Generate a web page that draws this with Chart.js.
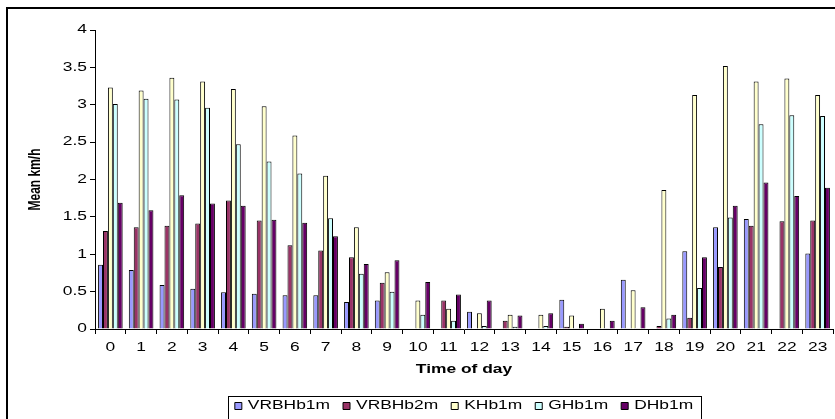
<!DOCTYPE html>
<html>
<head>
<meta charset="utf-8">
<script src="https://cdn.jsdelivr.net/npm/chart.js@4.4.0/dist/chart.umd.min.js"></script>
<style>
body { margin: 0; background: #fff; }
canvas { display: block; }
</style>
</head>
<body>
<canvas id="myChart" width="835" height="419"></canvas>
<script>
var heures = ['0','1','2','3','4','5','6','7','8','9','10','11','12','13','14','15','16','17','18','19','20','21','22','23'];

var vrbhb1m = [0.86, 0.79, 0.59, 0.54, 0.49, 0.47, 0.45, 0.45, 0.36, 0.38, 0, 0, 0.23, 0, 0, 0.39, 0, 0.66, 0, 1.04, 1.36, 1.47, 0, 1.01];
var vrbhb2m = [1.31, 1.36, 1.38, 1.41, 1.72, 1.45, 1.12, 1.05, 0.96, 0.62, 0, 0.38, 0, 0.11, 0, 0.03, 0, 0.01, 0.04, 0.15, 0.83, 1.38, 1.44, 1.45];
var khb1m   = [3.23, 3.19, 3.36, 3.31, 3.21, 2.98, 2.59, 2.05, 1.36, 0.76, 0.38, 0.27, 0.21, 0.19, 0.19, 0.18, 0.27, 0.52, 1.86, 3.13, 3.52, 3.31, 3.35, 3.13];
var ghb1m   = [3.01, 3.08, 3.07, 2.96, 2.47, 2.24, 2.08, 1.48, 0.74, 0.50, 0.19, 0.11, 0.04, 0.03, 0.04, 0.01, 0.01, 0.01, 0.14, 0.55, 1.49, 2.74, 2.86, 2.85];
var dhb1m   = [1.69, 1.59, 1.79, 1.68, 1.65, 1.46, 1.42, 1.24, 0.87, 0.92, 0.63, 0.46, 0.38, 0.18, 0.21, 0.07, 0.11, 0.29, 0.19, 0.96, 1.65, 1.96, 1.78, 1.89];

var noms = ['VRBHb1m', 'VRBHb2m', 'KHb1m', 'GHb1m', 'DHb1m'];
var couleurs = ['#9999FF', '#993366', '#FFFFCC', '#CCFFFF', '#660066'];
var series = [vrbhb1m, vrbhb2m, khb1m, ghb1m, dhb1m];

var stretch = 1.45;

var canvas = document.getElementById("myChart");
var ctx = canvas.getContext('2d');

// the text in the picture is drawn wider than normal, stretch it sideways
var fillOrig = ctx.fillText;
var measureOrig = ctx.measureText;
ctx.fillText = function(t, x, y) {
  var m = this.getTransform();
  this.save();
  this.translate(x, y);
  if (Math.abs(m.b) > 0.01) this.scale(1, stretch);
  else this.scale(stretch, 1);
  fillOrig.call(this, t, 0, 0);
  this.restore();
};
ctx.measureText = function(t) {
  var m = measureOrig.call(this, t);
  return {
    width: m.width * stretch,
    actualBoundingBoxAscent: m.actualBoundingBoxAscent,
    actualBoundingBoxDescent: m.actualBoundingBoxDescent,
    actualBoundingBoxLeft: m.actualBoundingBoxLeft * stretch,
    actualBoundingBoxRight: m.actualBoundingBoxRight * stretch
  };
};

var datasets = [];
for (var i = 0; i < series.length; i++) {
  datasets.push({
    label: noms[i],
    data: series[i],
    backgroundColor: couleurs[i],
    borderColor: '#000',
    borderWidth: 1,
    categoryPercentage: 0.8,
    barPercentage: 1.0
  });
}

var cadre = {
  id: 'cadre',
  afterDraw: function(chart) {
    var c = chart.ctx;
    c.save();
    c.strokeStyle = '#000';
    c.lineWidth = 2;
    c.strokeRect(7, 8, 850, 430);
    var boxes = chart.legend.legendHitBoxes;
    var first = boxes[0];
    var last = boxes[boxes.length - 1];
    c.lineWidth = 1;
    c.strokeRect(Math.round(first.left) - 6.5, Math.round(first.top) - 3.5, Math.round(last.left + last.width - first.left) + 15, 40);
    c.restore();
  }
};

Chart.defaults.font.family = "'Liberation Sans', Arial, sans-serif";
Chart.defaults.font.size = 12;
Chart.defaults.color = '#000';

var chart = new Chart(ctx, {
  type: 'bar',
  data: { labels: heures, datasets: datasets },
  plugins: [cadre],
  options: {
    responsive: false,
    animation: false,
    layout: { padding: { left: 8, right: 2, top: 30, bottom: -3 } },
    plugins: {
      tooltip: { enabled: false },
      legend: {
        position: 'bottom',
        fullSize: false,
        labels: { boxWidth: 7, boxHeight: 7, padding: 13, color: '#000', font: { size: 12 } }
      }
    },
    scales: {
      x: {
        grid: { display: true, drawOnChartArea: false, drawTicks: true, tickLength: 5, color: '#000', offset: true },
        border: { display: true, color: '#000', width: 1 },
        ticks: { padding: 6, maxRotation: 0, autoSkip: false, font: { size: 12 } },
        title: { display: true, text: 'Time of day', font: { size: 12, weight: 'bold' }, padding: { top: 0, bottom: 10 } },
        afterFit: function(scale) { scale.height = 58; }
      },
      y: {
        min: 0,
        max: 4,
        grid: { display: true, drawOnChartArea: false, drawTicks: true, tickLength: 5, color: '#000' },
        border: { display: true, color: '#000', width: 1 },
        ticks: { stepSize: 0.5, padding: 3, font: { size: 12 }, callback: function(v) { return String(v); } },
        title: { display: true, text: 'Mean km/h', font: { size: 12, weight: 'bold' }, padding: { top: 20, bottom: 0 } },
        afterFit: function(scale) { scale.width = 87; }
      }
    }
  }
});
</script>
</body>
</html>
